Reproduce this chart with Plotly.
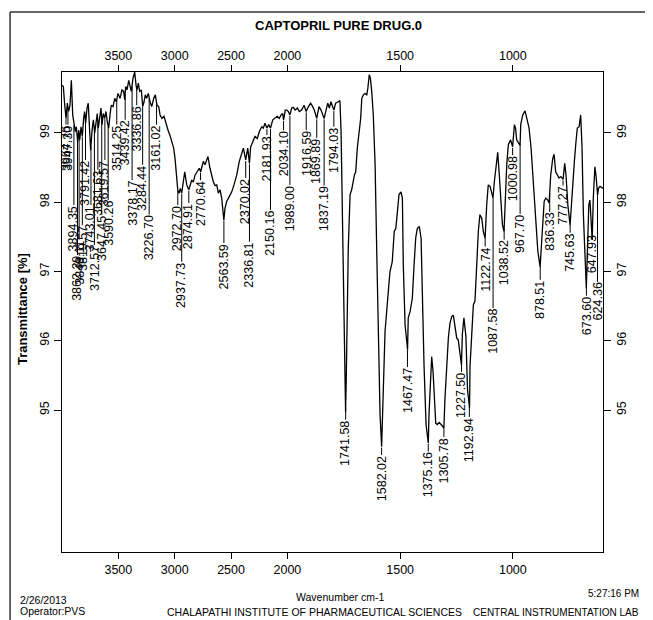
import numpy as np
import plotly.graph_objects as go

# FTIR spectrum, wavenumber (cm-1) vs transmittance (%)
wavenumber = [
    4000, 3988, 3976, 3964, 3953, 3941, 3929, 3917, 3905, 3894,
    3882, 3873, 3861, 3852, 3843, 3831, 3820, 3808, 3799, 3790,
    3778, 3767, 3758, 3746, 3734, 3722, 3710, 3698, 3687, 3678,
    3666, 3654, 3645, 3634, 3621, 3610, 3598, 3586, 3574, 3563,
    3547, 3532, 3518, 3503, 3485, 3468, 3453, 3444, 3435, 3423,
    3408, 3397, 3385, 3370, 3355, 3343, 3335, 3323, 3311, 3296,
    3284, 3272, 3261, 3249, 3234, 3219, 3204, 3186, 3172, 3157,
    3142, 3130, 3113, 3095, 3080, 3059, 3039, 3024, 3009, 2997,
    2986, 2973, 2962, 2950, 2938, 2926, 2911, 2893, 2875, 2849,
    2835, 2820, 2800, 2782, 2770, 2746, 2731, 2716, 2705, 2687,
    2672, 2658, 2642, 2627, 2613, 2598, 2583, 2564, 2554, 2539,
    2516, 2494, 2474, 2450, 2427, 2406, 2391, 2370, 2352, 2337,
    2326, 2308, 2288, 2267, 2249, 2228, 2214, 2199, 2182, 2166,
    2150, 2130, 2110, 2090, 2072, 2057, 2042, 2034, 2019, 2006,
    1996, 1989, 1981, 1974, 1966, 1956, 1947, 1937, 1926, 1917,
    1907, 1897, 1888, 1881, 1870, 1860, 1851, 1837, 1830, 1821,
    1814, 1807, 1794, 1786, 1774, 1767, 1762, 1756, 1750, 1744,
    1742, 1739, 1736, 1730, 1722, 1715, 1703, 1697, 1690, 1682,
    1675, 1670, 1663, 1656, 1648, 1643, 1637, 1632, 1626, 1619,
    1611, 1604, 1597, 1589, 1582, 1577, 1567, 1555, 1545, 1535,
    1526, 1519, 1511, 1505, 1496, 1490, 1486, 1478, 1467, 1464,
    1456, 1446, 1438, 1431, 1424, 1415, 1407, 1401, 1394, 1385,
    1375, 1372, 1364, 1360, 1354, 1348, 1342, 1335, 1327, 1318,
    1306, 1301, 1293, 1286, 1279, 1271, 1264, 1256, 1249, 1242,
    1234, 1228, 1224, 1217, 1208, 1201, 1192, 1190, 1182, 1175,
    1168, 1160, 1153, 1146, 1138, 1131, 1123, 1116, 1109, 1101,
    1094, 1088, 1082, 1074, 1067, 1060, 1052, 1046, 1039, 1034,
    1027, 1020, 1010, 1001, 993, 988, 983, 968, 965, 956,
    946, 938, 928, 919, 909, 897, 889, 879, 875, 867,
    861, 854, 845, 839, 832, 823, 817, 810, 802, 795,
    787, 777, 770, 764, 756, 746, 740, 734, 727, 720,
    714, 706, 699, 693, 687, 674, 668, 663, 658, 648,
    643, 636, 631, 624, 620, 613, 600,
]
transmittance = [
    99.69, 99.67, 99.40, 99.21, 99.43, 99.31, 99.40, 99.76, 99.26, 99.12,
    99.02, 99.09, 98.87, 99.04, 98.90, 99.09, 98.95, 99.21, 99.31, 99.14,
    99.36, 99.43, 99.14, 98.75, 99.02, 99.19, 99.00, 99.14, 99.28, 99.07,
    99.24, 99.36, 99.12, 99.28, 99.21, 99.31, 99.16, 99.07, 99.26, 99.40,
    99.38, 99.50, 99.45, 99.57, 99.50, 99.62, 99.60, 99.48, 99.67, 99.62,
    99.76, 99.67, 99.60, 99.79, 99.88, 99.69, 99.62, 99.72, 99.60, 99.62,
    99.38, 99.45, 99.55, 99.50, 99.57, 99.45, 99.38, 99.50, 99.55, 99.40,
    99.38, 99.26, 99.21, 99.24, 99.14, 99.04, 98.95, 98.87, 98.78, 98.63,
    98.39, 98.18, 98.13, 98.20, 98.13, 98.27, 98.44, 98.25, 98.18, 98.32,
    98.29, 98.39, 98.44, 98.49, 98.44, 98.59, 98.54, 98.63, 98.66, 98.49,
    98.39, 98.30, 98.24, 98.25, 98.13, 98.18, 98.06, 97.74, 97.91, 98.01,
    98.08, 98.15, 98.25, 98.39, 98.59, 98.71, 98.78, 98.61, 98.78, 98.56,
    98.80, 98.87, 98.95, 98.92, 99.02, 99.09, 99.07, 99.14, 99.07, 99.12,
    99.07, 99.19, 99.21, 99.24, 99.21, 99.26, 99.28, 99.19, 99.33, 99.33,
    99.31, 99.26, 99.36, 99.37, 99.33, 99.36, 99.31, 99.33, 99.40, 99.31,
    99.38, 99.43, 99.38, 99.33, 99.21, 99.38, 99.33, 99.21, 99.31, 99.43,
    99.36, 99.45, 99.33, 99.43, 99.45, 99.47, 99.02, 97.58, 96.13, 95.15,
    94.98, 95.44, 96.13, 97.34, 98.11, 98.18, 98.39, 98.44, 98.78, 99.02,
    99.21, 99.50, 99.55, 99.57, 99.55, 99.65, 99.84, 99.79, 99.60, 99.26,
    98.54, 97.34, 96.13, 94.93, 94.47, 95.17, 96.13, 96.61, 97.00, 97.14,
    97.58, 97.62, 97.91, 98.11, 98.15, 98.06, 97.10, 96.23, 95.87, 96.33,
    96.42, 96.61, 97.10, 97.48, 97.62, 97.65, 97.48, 96.61, 95.65, 94.79,
    94.52, 94.93, 95.70, 95.77, 95.56, 95.17, 94.81, 94.79, 94.82, 94.79,
    94.74, 95.17, 95.65, 96.04, 96.25, 96.35, 96.37, 96.18, 96.04, 96.01,
    95.75, 95.65, 96.09, 96.33, 96.06, 95.29, 95.03, 95.63, 96.11, 96.52,
    96.57, 97.10, 97.58, 97.82, 97.77, 97.58, 97.48, 97.96, 98.25, 98.23,
    98.11, 98.06, 98.30, 98.54, 98.72, 98.39, 97.96, 97.67, 97.58, 98.06,
    98.54, 98.83, 98.90, 98.80, 99.12, 99.07, 98.90, 98.82, 99.12, 99.26,
    99.32, 99.21, 99.07, 98.78, 98.30, 97.72, 97.29, 97.07, 97.29, 97.67,
    98.01, 98.06, 98.03, 97.99, 98.39, 98.63, 98.69, 98.44, 98.39, 98.35,
    98.37, 98.33, 98.56, 98.39, 97.96, 97.67, 97.96, 98.30, 98.59, 98.87,
    99.07, 99.09, 99.26, 98.78, 97.82, 96.76, 97.34, 97.96, 98.03, 97.46,
    98.06, 98.51, 98.39, 98.10, 98.20, 98.23, 98.20,
]
assert len(wavenumber) == len(transmittance)

# picked peaks and where each label's text begins (in %T)
peak_labels = [
    "3964.76", "3947.30", "3894.35", "3862.39", "3848.11", "3819.57", "3791.42",
    "3743.01", "3712.57", "3681.63", "3647.45", "3619.57", "3590.26", "3514.25",
    "3439.42", "3378.17", "3336.86", "3284.44", "3226.70", "3161.02", "2972.70",
    "2937.73", "2874.91", "2770.64", "2563.59", "2370.02", "2336.81", "2181.93",
    "2150.16", "2034.10", "1989.00", "1916.59", "1869.89", "1837.19", "1794.03",
    "1741.58", "1582.02", "1467.47", "1375.16", "1305.78", "1227.50", "1192.94",
    "1122.74", "1087.58", "1038.52", "1000.98", "967.70", "878.51", "836.33",
    "777.27", "745.63", "673.60", "647.93", "624.36",
]
label_T = [
    99.12, 99.12, 97.96, 97.24, 97.46, 97.67, 98.61,
    97.96, 97.38, 98.47, 97.82, 98.61, 98.03, 99.12,
    99.19, 98.32, 99.40, 98.54, 97.82, 99.12, 97.96,
    97.14, 97.99, 98.32, 97.41, 98.35, 97.43, 98.97,
    97.89, 99.04, 98.25, 99.04, 98.93, 98.24, 99.09,
    94.86, 94.35, 95.62, 94.40, 94.61, 95.55, 94.90,
    97.36, 96.47, 97.46, 98.68, 97.83, 96.88, 97.86,
    98.24, 97.56, 96.65, 97.54, 96.85,
]

tick_wn = [3500, 3000, 2500, 2000, 1500, 1000]
y_ticks = [95, 96, 97, 98, 99]


def to_axis(w):
    # the instrument halves the scale above 2000 cm-1
    w = np.asarray(w, dtype=float)
    return np.where(w > 2000, 2000 + (w - 2000) / 2, w)


wn = np.array(wavenumber, dtype=float)
tr = np.array(transmittance, dtype=float)
x_range = [float(to_axis(4000)), float(to_axis(600))]
y_range = [92.95, 99.88]
font = "Liberation Sans, Arial, sans-serif"

fig = go.Figure()
fig.add_trace(go.Scatter(x=to_axis(wn), y=tr, mode='lines',
                         line=dict(color='black', width=1.3), hoverinfo='skip'))
fig.add_trace(go.Scatter(x=[x_range[0]], y=[99], xaxis='x2', yaxis='y2', mode='markers',
                         marker=dict(opacity=0), hoverinfo='skip'))

peak_wn = np.array([float(p) for p in peak_labels])
peak_T = np.interp(peak_wn[::-1], wn[::-1], tr[::-1])[::-1]
for lab, pw, pt, lt in zip(peak_labels, peak_wn, peak_T, label_T):
    px = float(to_axis(pw))
    fig.add_shape(type='line', x0=px, x1=px, y0=pt - 0.015, y1=lt,
                  line=dict(color='black', width=1))
    fig.add_annotation(x=px, y=lt, text=lab, textangle=-90, showarrow=False,
                       xanchor='center', yanchor='top', borderpad=0,
                       font=dict(family=font, size=12.5, color='black'))

# outer page frame
fig.add_shape(type='line', xref='paper', yref='paper', x0=-0.096, x1=-0.096, y0=1.125, y1=-0.16,
              line=dict(color='#333333', width=1.5))
fig.add_shape(type='line', xref='paper', yref='paper', x0=-0.096, x1=1.1, y0=1.125, y1=1.125,
              line=dict(color='#333333', width=1.5))


def page_text(x, y, text, size=10.5, xanchor='center', bold=False, angle=0):
    if bold:
        text = '<b>' + text + '</b>'
    fig.add_annotation(xref='paper', yref='paper', x=x, y=y, text=text, textangle=angle,
                       showarrow=False, xanchor=xanchor, yanchor='middle',
                       font=dict(family=font, size=size, color='black'))


page_text(0.512, 1.096, 'CAPTOPRIL PURE DRUG.0', size=13, bold=True)
page_text(-0.074, 0.506, 'Transmittance [%]', size=13, bold=True, angle=-90)
page_text(0.514, -0.094, 'Wavenumber cm-1')
page_text(-0.0813, -0.1, '2/26/2013', xanchor='left')
page_text(-0.0813, -0.123, 'Operator:PVS', xanchor='left')
page_text(0.467, -0.125, 'CHALAPATHI INSTITUTE OF PHARMACEUTICAL SCIENCES')
page_text(1.07, -0.125, 'CENTRAL INSTRUMENTATION LAB', size=10, xanchor='right')
page_text(1.07, -0.087, '5:27:16 PM', size=10, xanchor='right')

tick_font = dict(family=font, size=12.5, color='black')
xticks = dict(tickvals=to_axis(tick_wn).tolist(), ticktext=[str(t) for t in tick_wn],
              ticks='outside', ticklen=6, tickcolor='black', tickfont=tick_font,
              showgrid=False, zeroline=False, range=x_range, automargin=False)
yticks = dict(tickvals=y_ticks, ticktext=[str(t) for t in y_ticks], tickangle=-90,
              ticks='outside', ticklen=7, tickcolor='black', tickfont=tick_font,
              showgrid=False, zeroline=False, range=y_range, automargin=False)

# the page body adds 8px around the figure, so the figure is 8px smaller
fig.update_layout(
    width=645, height=612,
    margin=dict(l=54, r=50, t=64, b=68),
    plot_bgcolor='white', paper_bgcolor='white',
    showlegend=False,
    font=dict(family=font, color='black'),
    xaxis=dict(showline=True, linecolor='black', linewidth=1, mirror=True, **xticks),
    xaxis2=dict(overlaying='x', side='top', anchor='y', **xticks),
    yaxis=dict(showline=True, linecolor='black', linewidth=1, mirror=True, **yticks),
    yaxis2=dict(overlaying='y', side='right', anchor='x', **yticks),
)

fig.write_html("out.html")
